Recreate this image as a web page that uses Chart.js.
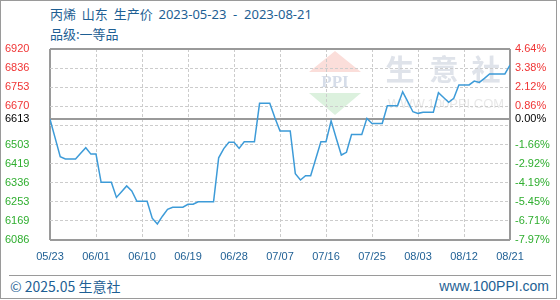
<!DOCTYPE html>
<html>
<head>
<meta charset="utf-8">
<script src="https://cdn.jsdelivr.net/npm/chart.js@4"></script>
<style>
    body { margin: 0; background: #fff; }
    #frame { position: absolute; left: 0; top: 0; width: 555px; height: 297px; border: 1px solid #9a9a9a; }
    #title { position: absolute; left: 50px; top: 4px; color: #1e5f94; font: 13px "Noto Sans CJK SC", sans-serif; line-height: 20px; white-space: nowrap; }
    #title .num { font-family: "Noto Sans", sans-serif; }
    #footer_line { position: absolute; left: 9px; top: 275px; width: 542px; border-top: 1px solid #9a9a9a; }
    .foot { position: absolute; top: 276px; color: #1e5f94; font: 14px "Noto Sans CJK SC", sans-serif; line-height: 20px; }
    #chart_box { position: absolute; left: 0; top: 0; width: 560px; height: 300px; }
</style>
</head>
<body>
<div id="frame"></div>
<div id="title">
    <div>丙烯&nbsp; 山东&nbsp; 生产价&nbsp; <span class="num">2023-05-23&nbsp; -&nbsp; 2023-08-21</span></div>
    <div>品级:一等品</div>
</div>
<div id="footer_line"></div>
<div class="foot" style="left:10px">© 2025.05 生意社</div>
<div class="foot" style="right:11px; font-family:'Liberation Sans', sans-serif">www.100PPI.com</div>
<div id="chart_box"><canvas id="price_chart" width="560" height="300"></canvas></div>

<script>
// daily price, 2023-05-23 .. 2023-08-21 (91 days)
const prices = [
    6613, 6532, 6450, 6440, 6440, 6440, 6465, 6489, 6461, 6461,
    6338, 6338, 6338, 6272, 6297, 6322, 6300, 6255, 6255, 6255,
    6181, 6156, 6190, 6220, 6229, 6229, 6229, 6242, 6242, 6253,
    6253, 6253, 6253, 6445, 6485, 6513, 6513, 6486, 6515, 6515,
    6515, 6683, 6683, 6683, 6620, 6562, 6562, 6562, 6375, 6348,
    6367, 6367, 6441, 6515, 6515, 6606, 6530, 6457, 6469, 6547,
    6547, 6547, 6617, 6595, 6595, 6595, 6672, 6672, 6672, 6733,
    6690, 6646, 6639, 6644, 6644, 6644, 6729, 6708, 6687, 6705,
    6763, 6763, 6763, 6780, 6774, 6792, 6811, 6811, 6811, 6811,
    6850
];
const base_price = 6613;

const x_tick_days = [0, 9, 18, 27, 36, 45, 54, 63, 72, 81, 90];
const x_tick_labels = ['05/23', '06/01', '06/10', '06/19', '06/28', '07/07', '07/16', '07/25', '08/03', '08/12', '08/21'];

const y_tick_values = [6086, 6169.4, 6252.8, 6336.2, 6419.6, 6503, 6586.4, 6613, 6669.8, 6753.2, 6836.6, 6920];
const y_left_labels = ['6086', '6169', '6253', '6336', '6419', '6503', '', '6613', '6670', '6753', '6836', '6920'];
const y_right_labels = ['-7.97%', '-6.71%', '-5.45%', '-4.19%', '-2.92%', '-1.66%', '', '0.00%', '0.86%', '2.12%', '3.38%', '4.64%'];

const tick_font = { family: 'Liberation Sans', size: 11 };

function tick_color(c) {
    if (!c.tick) return '#000';
    if (c.tick.value > base_price) return '#f03535';
    if (c.tick.value < base_price) return '#2fae2f';
    return '#000000';
}

// frame lines (edges + base price) are solid, the rest dashed
function is_frame_y(c) {
    return c.tick && (c.tick.value === base_price || c.index === 0 || c.index === y_tick_values.length - 1);
}
function is_frame_x(c) {
    return c.tick && (c.index === 0 || c.index === x_tick_days.length - 1);
}

// faint site watermark behind the grid
const watermark = {
    id: 'watermark',
    beforeDraw(chart) {
        const ctx = chart.ctx;
        ctx.save();
        ctx.fillStyle = '#fbdeda';
        ctx.beginPath();
        ctx.moveTo(335, 51); ctx.lineTo(361, 72); ctx.lineTo(309, 72);
        ctx.fill();
        ctx.fillStyle = '#dcf1de';
        ctx.beginPath();
        ctx.moveTo(309, 93); ctx.lineTo(361, 93); ctx.lineTo(335, 115);
        ctx.fill();
        ctx.fillStyle = '#d6dde9';
        ctx.font = 'bold 17px "Liberation Serif"';
        ctx.textAlign = 'center';
        ctx.textBaseline = 'middle';
        ctx.fillText('PPI', 335, 83);
        ctx.fillStyle = '#dfe3ea';
        ctx.font = 'bold 29px "Noto Sans CJK SC"';
        ctx.fillText('生', 400, 70);
        ctx.fillText('意', 444, 70);
        ctx.fillText('社', 486, 70);
        ctx.fillStyle = '#e8e8e8';
        ctx.font = '13px "Liberation Sans"';
        ctx.fillText('WWW.100PPI.COM', 446, 104);
        ctx.restore();
    }
};

const chart = new Chart(document.getElementById('price_chart'), {
    type: 'line',
    data: {
        datasets: [{
            data: prices.map((v, i) => ({ x: i, y: v })),
            borderColor: '#3d9bd8',
            borderWidth: 1.5,
            pointRadius: 0,
            tension: 0,
        }]
    },
    options: {
        responsive: false,
        animation: false,
        layout: { padding: { left: 5, right: 4, top: 49, bottom: 36 } },
        plugins: { legend: { display: false }, tooltip: { enabled: false } },
        scales: {
            x: {
                type: 'linear',
                min: 0,
                max: 90,
                afterBuildTicks: (axis) => { axis.ticks = x_tick_days.map((d) => ({ value: d })); },
                afterFit: (axis) => { axis.height = 24; },
                ticks: {
                    autoSkip: false,
                    maxRotation: 0,
                    padding: 10,
                    font: tick_font,
                    color: '#1e5f94',
                    callback: (v, i) => x_tick_labels[i],
                },
                grid: {
                    drawTicks: false,
                    color: (c) => is_frame_x(c) ? '#9a9a9a' : '#cccccc',
                    lineWidth: (c) => is_frame_x(c) ? 2 : 1,
                },
                border: { display: false, dash: (c) => is_frame_x(c) ? [] : [3, 2] },
            },
            y: {
                position: 'left',
                min: 6086,
                max: 6920,
                afterBuildTicks: (axis) => { axis.ticks = y_tick_values.map((v) => ({ value: v })); },
                afterFit: (axis) => { axis.width = 45; },
                ticks: {
                    autoSkip: false,
                    crossAlign: 'far',
                    font: tick_font,
                    color: tick_color,
                    callback: (v, i) => y_left_labels[i],
                },
                grid: {
                    drawTicks: false,
                    color: (c) => is_frame_y(c) ? '#9a9a9a' : '#cccccc',
                    lineWidth: (c) => is_frame_y(c) ? 2 : 1,
                },
                border: { display: false, dash: (c) => is_frame_y(c) ? [] : [3, 2] },
            },
            y_pct: {
                position: 'right',
                min: 6086,
                max: 6920,
                afterBuildTicks: (axis) => { axis.ticks = y_tick_values.map((v) => ({ value: v })); },
                afterFit: (axis) => { axis.width = 46; },
                ticks: {
                    autoSkip: false,
                    padding: 5,
                    font: tick_font,
                    color: tick_color,
                    callback: (v, i) => y_right_labels[i],
                },
                grid: { display: false, drawTicks: false },
                border: { display: false },
            },
        }
    },
    plugins: [watermark]
});
</script>
</body>
</html>
